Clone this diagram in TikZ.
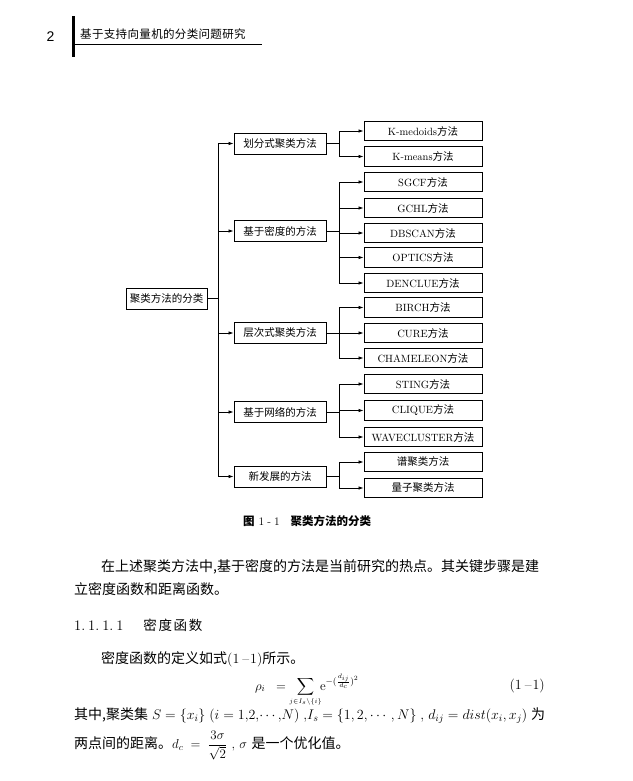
\RequirePackage{fix-cm}
\documentclass[tikz,border=0pt]{standalone}
\usepackage{amsmath}
\usepackage{mathtools}
\usepackage{fontspec}
\usetikzlibrary{arrows.meta}
\newfontfamily\cjk{Noto Sans CJK SC}
\newfontfamily\cjkhead[LetterSpace=3]{Noto Sans CJK SC}
\newfontfamily\cjksec[LetterSpace=12]{Noto Sans CJK SC}
\newfontfamily\hel{Liberation Sans}
\tikzset{
  box/.style={draw, line width=0.9pt, inner sep=0pt, minimum height=20pt,
    font=\fontsize{10.5}{12}\selectfont},
  rootbox/.style={box, minimum width=81pt, minimum height=21pt},
  midbox/.style={box, minimum width=92pt, minimum height=21pt},
  leafbox/.style={box, minimum width=118pt, minimum height=19.5pt},
  link/.style={line width=0.75pt},
  arr/.style={link, -{Latex[length=5pt,width=3.5pt]}},
  txt/.style={inner sep=0pt, anchor=base west, font=\fontsize{14}{16}\selectfont},
}
\begin{document}
\begin{tikzpicture}[x=1pt,y=-1pt]
\useasboundingbox (0,0) rectangle (632,781);
\fill[white] (0,0) rectangle (632,781);
% ---- running head
\node[inner sep=0pt, font=\hel\fontsize{14}{16}\selectfont] (pnum) at (50.5,37) {2};
\fill (72,16) rectangle (74.5,57);
\coordinate (hl) at (74,44.5);
\coordinate (hr) at (262,44.5);
\draw[line width=0.8pt] (hl) -- (hr);
\node[anchor=west, inner sep=0pt, font=\cjkhead\fontsize{11.5}{13}\selectfont] (htitle) at (80,34) {基于支持向量机的分类问题研究};
% ---- diagram
\node[rootbox] (root) at (166.5,298.5) {\cjk 聚类方法的分类};
\node[midbox] (m1) at (280,143.5) {\cjk 划分式聚类方法};
\node[midbox] (m2) at (280,231) {\cjk 基于密度的方法};
\node[midbox] (m3) at (280,333) {\cjk 层次式聚类方法};
\node[midbox] (m4) at (280,412) {\cjk 基于网络的方法};
\node[midbox] (m5) at (280,476.5) {\cjk 新发展的方法};
\node[leafbox] (l1) at (423,131) {K-medoids\cjk 方法};
\node[leafbox] (l2) at (423,156.5) {K-means\cjk 方法};
\node[leafbox] (l3) at (423,182) {SGCF\cjk 方法};
\node[leafbox] (l4) at (423,208) {GCHL\cjk 方法};
\node[leafbox] (l5) at (423,233) {DBSCAN\cjk 方法};
\node[leafbox] (l6) at (423,257.5) {OPTICS\cjk 方法};
\node[leafbox] (l7) at (423,283) {DENCLUE\cjk 方法};
\node[leafbox] (l8) at (423,307.5) {BIRCH\cjk 方法};
\node[leafbox] (l9) at (423,333) {CURE\cjk 方法};
\node[leafbox] (l10) at (423,358) {CHAMELEON\cjk 方法};
\node[leafbox] (l11) at (423,384) {STING\cjk 方法};
\node[leafbox] (l12) at (423,410.5) {CLIQUE\cjk 方法};
\node[leafbox] (l13) at (423,437) {WAVECLUSTER\cjk 方法};
\node[leafbox] (l14) at (423,462) {\cjk 谱聚类方法};
\node[leafbox] (l15) at (423,488) {\cjk 量子聚类方法};
% trunk
\draw[link] (root.east) -- ++(11,0) coordinate (t);
\draw[link] (t |- m1.west) -- (t |- m5.west);
\foreach \m in {m1,m2,m3,m4,m5} \draw[arr] (t |- \m.west) -- (\m.west);
% branches
\draw[link] (m1.east) -- ++(13,0) coordinate (b1);
\draw[link] (b1 |- l1.west) -- (b1 |- l2.west);
\foreach \l in {l1,l2} \draw[arr] (b1 |- \l.west) -- (\l.west);
\draw[link] (m2.east) -- ++(13,0) coordinate (b2);
\draw[link] (b2 |- l3.west) -- (b2 |- l7.west);
\foreach \l in {l3,l4,l5,l6,l7} \draw[arr] (b2 |- \l.west) -- (\l.west);
\draw[link] (m3.east) -- ++(13,0) coordinate (b3);
\draw[link] (b3 |- l8.west) -- (b3 |- l10.west);
\foreach \l in {l8,l9,l10} \draw[arr] (b3 |- \l.west) -- (\l.west);
\draw[link] (m4.east) -- ++(13,0) coordinate (b4);
\draw[link] (b4 |- l11.west) -- (b4 |- l13.west);
\foreach \l in {l11,l12,l13} \draw[arr] (b4 |- \l.west) -- (\l.west);
\draw[link] (m5.east) -- ++(13,0) coordinate (b5);
\draw[link] (b5 |- l14.west) -- (b5 |- l15.west);
\foreach \l in {l14,l15} \draw[arr] (b5 |- \l.west) -- (\l.west);
% caption
\node[anchor=west, inner sep=0pt, font=\fontsize{11.5}{13}\selectfont] (cap) at (243,521)
  {{\cjk\bfseries 图}\hspace{4pt}1\hspace{3pt}-\hspace{3pt}1\hspace{11pt}{\cjk\bfseries 聚类方法的分类}};
% ---- body text
\node[txt] (p1) at (101,571) {\cjk 在上述聚类方法中,基于密度的方法是当前研究的热点。其关键步骤是建};
\node[txt] (p2) at (74,594) {\cjk 立密度函数和距离函数。};
\node[txt, font=\fontsize{14.5}{16}\selectfont] (sec) at (74,630)
  {1.\hspace{3pt}1.\hspace{3pt}1.\hspace{3pt}1\hspace{20pt}{\cjksec\fontsize{13.5}{16}\selectfont 密度函数}};
\node[txt] (p3) at (101,663) {{\cjk 密度函数的定义如式}(1\hspace{3pt}--\hspace{1pt}1){\cjk 所示。}};
\node[inner sep=0pt, anchor=base, font=\fontsize{13}{15}\selectfont] (eq) at (307,690)
  {$\displaystyle \rho_i \;\;=\;\; \sum_{\mathclap{\scriptscriptstyle j\in I_s\setminus\{i\}}} \;\mathrm{e}^{-(\frac{d_{ij}}{d_c})^2}$};
\node[inner sep=0pt, anchor=base east, font=\fontsize{14}{16}\selectfont] (eqno) at (545,689) {(1\hspace{3pt}--\hspace{1pt}1)};
\node[txt] (p4) at (74,719.5) {\makebox[471pt][s]{{\cjk 其中,聚类集} $S$ = $\{x_i\}$ ($i$ = 1,2,$\cdots$,$N$) ,$I_s$ = $\{1,2,\cdots,N\}$ , $d_{ij}$ = $dist(x_i,x_j)$ {\cjk 为}}};
\node[txt] (p5) at (74,748.5) {{\cjk 两点间的距离。}{\fontsize{13}{15}\selectfont$d_c\;=\;\dfrac{3\sigma}{\sqrt{2}}$ , $\sigma$} {\cjk 是一个优化值。}};
\end{tikzpicture}
\end{document}
